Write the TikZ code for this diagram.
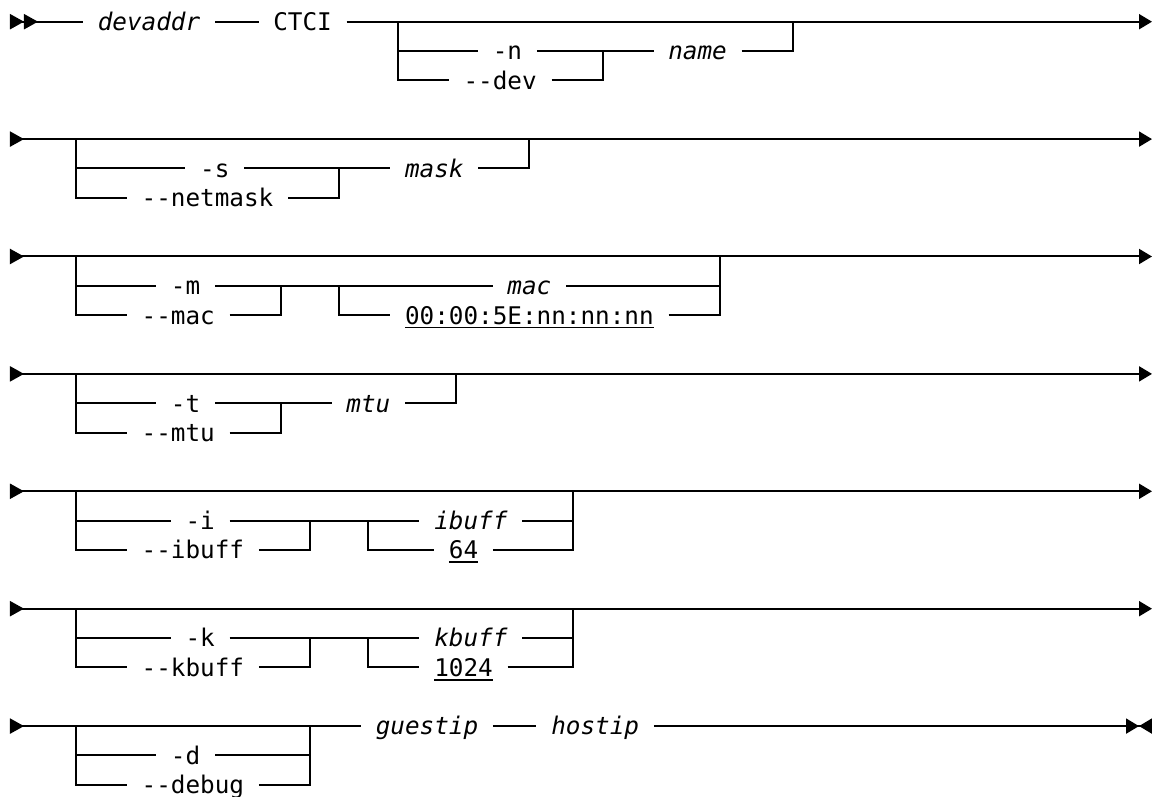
\documentclass[tikz,border=0pt]{standalone}
\usepackage{fontspec}
\setmonofont{DejaVu Sans Mono}
\usetikzlibrary{arrows.meta}

\newcommand\kwfont{\ttfamily\fontsize{24.3pt}{29pt}\selectfont}
\newcommand\varfont{\ttfamily\itshape\fontsize{24.3pt}{29pt}\selectfont}
\newcommand\dflt[1]{\setbox0\hbox{#1}\rlap{\rule[-4.3pt]{\wd0}{1.8pt}}\box0}

\begin{document}
\begin{tikzpicture}[x=14.63pt,y=-29.35pt,
  every node/.style={font=\kwfont,inner xsep=14.63pt,inner ysep=0pt,text height=17.7pt,text depth=0pt},
  var/.style={font=\varfont},
  rail/.style={line width=2pt},
  railrow/.style={{Triangle[reversed,length=14pt,width=15pt]}-{Triangle[length=13pt,width=15pt]}},
  railin/.style={{Triangle[reversed,length=14pt,width=15pt]}-},
  railout/.style={-{Triangle[length=13pt,width=15pt]}}
]
  \useasboundingbox (-0.6835,-0.739) rectangle (78.06,26.415);

  % devaddr CTCI
  \node[var] (devaddr) at (9.5,0) {devaddr};
  \node (ctci) at (20,0) {CTCI};
  \node (n) at (34,1) {-n};
  \node (dev) at (33.5,2) {-{}-dev};
  \node[var] (name) at (47,1) {name};
  \coordinate (r1a) at (26.5,0);
  \coordinate (r1b) at (40.5,1);
  \coordinate (r1c) at (53.5,0);
  \coordinate (r1s) at (0,0);
  \coordinate (r1e) at (78.06,0);
  \draw[rail,{Triangle[reversed,length=14pt,width=15pt]Triangle[reversed,length=14pt,width=15pt]}-] (r1s) -- (devaddr.west);
  \draw[rail] (devaddr.east) -- (ctci.west);
  \draw[rail,railout] (ctci.east) -- (r1e);
  \draw[rail] (r1a) |- (n.west) (n.east) -- (name.west) (name.east) -| (r1c);
  \draw[rail] (r1a) |- (dev.west) (dev.east) -| (r1b);

  % netmask
  \node (s) at (14,5) {-s};
  \node (netmask) at (13.5,6) {-{}-netmask};
  \node[var] (mask) at (29,5) {mask};
  \coordinate (r2a) at (4.5,4);
  \coordinate (r2b) at (22.5,5);
  \coordinate (r2c) at (35.5,4);
  \coordinate (r2s) at (0,4);
  \coordinate (r2e) at (78.06,4);
  \draw[rail,railrow] (r2s) -- (r2e);
  \draw[rail] (r2a) |- (s.west) (s.east) -- (mask.west) (mask.east) -| (r2c);
  \draw[rail] (r2a) |- (netmask.west) (netmask.east) -| (r2b);

  % mac
  \node (m) at (12,9) {-m};
  \node (macopt) at (11.5,10) {-{}-mac};
  \node[var] (mac) at (35.5,9) {mac};
  \node (macdef) at (35.5,10) {\dflt{00:00:5E:nn:nn:nn}};
  \coordinate (r3a) at (4.5,8);
  \coordinate (r3b) at (18.5,9);
  \coordinate (r3c) at (22.5,9);
  \coordinate (r3d) at (48.5,8);
  \coordinate (r3s) at (0,8);
  \coordinate (r3e) at (78.06,8);
  \draw[rail,railrow] (r3s) -- (r3e);
  \draw[rail] (r3a) |- (m.west) (m.east) -- (mac.west) (mac.east) -| (r3d);
  \draw[rail] (r3a) |- (macopt.west) (macopt.east) -| (r3b);
  \draw[rail] (r3c) |- (macdef.west) (macdef.east) -| (r3d);

  % mtu
  \node (t) at (12,13) {-t};
  \node (mtuopt) at (11.5,14) {-{}-mtu};
  \node[var] (mtu) at (24.5,13) {mtu};
  \coordinate (r4a) at (4.5,12);
  \coordinate (r4b) at (18.5,13);
  \coordinate (r4c) at (30.5,12);
  \coordinate (r4s) at (0,12);
  \coordinate (r4e) at (78.06,12);
  \draw[rail,railrow] (r4s) -- (r4e);
  \draw[rail] (r4a) |- (t.west) (t.east) -- (mtu.west) (mtu.east) -| (r4c);
  \draw[rail] (r4a) |- (mtuopt.west) (mtuopt.east) -| (r4b);

  % ibuff
  \node (i) at (13,17) {-i};
  \node (ibuffopt) at (12.5,18) {-{}-ibuff};
  \node[var] (ibuff) at (31.5,17) {ibuff};
  \node (ibuffdef) at (31,18) {\dflt{64}};
  \coordinate (r5a) at (4.5,16);
  \coordinate (r5b) at (20.5,17);
  \coordinate (r5c) at (24.5,17);
  \coordinate (r5d) at (38.5,16);
  \coordinate (r5s) at (0,16);
  \coordinate (r5e) at (78.06,16);
  \draw[rail,railrow] (r5s) -- (r5e);
  \draw[rail] (r5a) |- (i.west) (i.east) -- (ibuff.west) (ibuff.east) -| (r5d);
  \draw[rail] (r5a) |- (ibuffopt.west) (ibuffopt.east) -| (r5b);
  \draw[rail] (r5c) |- (ibuffdef.west) (ibuffdef.east) -| (r5d);

  % kbuff
  \node (k) at (13,21) {-k};
  \node (kbuffopt) at (12.5,22) {-{}-kbuff};
  \node[var] (kbuff) at (31.5,21) {kbuff};
  \node (kbuffdef) at (31,22) {\dflt{1024}};
  \coordinate (r6a) at (4.5,20);
  \coordinate (r6b) at (20.5,21);
  \coordinate (r6c) at (24.5,21);
  \coordinate (r6d) at (38.5,20);
  \coordinate (r6s) at (0,20);
  \coordinate (r6e) at (78.06,20);
  \draw[rail,railrow] (r6s) -- (r6e);
  \draw[rail] (r6a) |- (k.west) (k.east) -- (kbuff.west) (kbuff.east) -| (r6d);
  \draw[rail] (r6a) |- (kbuffopt.west) (kbuffopt.east) -| (r6b);
  \draw[rail] (r6c) |- (kbuffdef.west) (kbuffdef.east) -| (r6d);

  % debug guestip hostip
  \node (d) at (12,25) {-d};
  \node (debug) at (12.5,26) {-{}-debug};
  \node[var] (guestip) at (28.5,24) {guestip};
  \node[var] (hostip) at (40,24) {hostip};
  \coordinate (r7a) at (4.5,24);
  \coordinate (r7b) at (20.5,24);
  \coordinate (r7s) at (0,24);
  \coordinate (r7e) at (78.06,24);
  \draw[rail,railin] (r7s) -- (guestip.west);
  \draw[rail] (guestip.east) -- (hostip.west);
  \draw[rail,-{Triangle[length=13pt,width=15pt]Triangle[reversed,length=13pt,width=15pt]}] (hostip.east) -- (r7e);
  \draw[rail] (r7a) |- (d.west) (d.east) -| (r7b);
  \draw[rail] (r7a) |- (debug.west) (debug.east) -| (r7b);
\end{tikzpicture}
\end{document}
